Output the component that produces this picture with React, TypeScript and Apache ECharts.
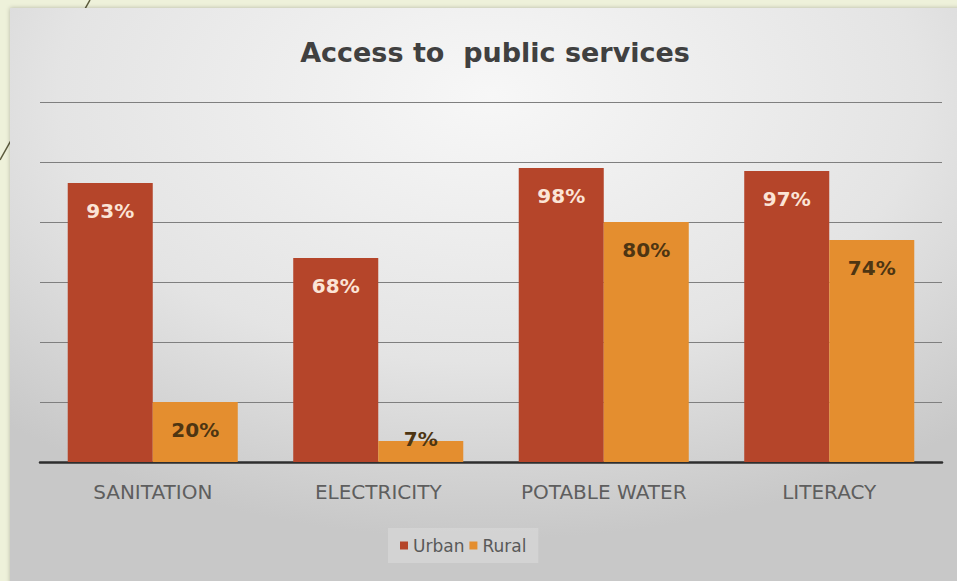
import React, { useEffect, useRef } from "react";
import * as echarts from "echarts";

const categories = ["SANITATION", "ELECTRICITY", "POTABLE WATER", "LITERACY"];
const urban = [93, 68, 98, 97];
const rural = [20, 7, 80, 74];
const yTicks = [0, 20, 40, 60, 80, 100, 120];

export default function App() {
  const ref = useRef<HTMLDivElement>(null);
  useEffect(() => {
    document.body.style.margin = "0";
    const chart = echarts.init(ref.current!, null, { renderer: "svg" });
    const font = "DejaVu Sans";
    chart.setOption({
      animation: false,
      backgroundColor: "#eef1da",
      graphic: [
        {
          type: "line",
          z: -10,
          shape: { x1: 90, y1: 0, x2: 0, y2: 160 },
          style: { stroke: "#5b5a3c", lineWidth: 1.5 },
        },
        {
          type: "rect",
          z: -5,
          shape: { x: 10, y: 8, width: 960, height: 590 },
          style: {
            fill: {
              type: "radial",
              x: 0.5,
              y: 0.15,
              r: 0.75,
              colorStops: [
                { offset: 0, color: "#f7f7f7" },
                { offset: 0.6, color: "#e4e4e4" },
                { offset: 1, color: "#c8c8c8" },
              ],
            },
            shadowColor: "rgba(0,0,0,0.25)",
            shadowBlur: 4,
          },
        },
      ],
      title: {
        text: "Access to  public services",
        left: 490,
        textAlign: "center",
        top: 34,
        textStyle: { fontFamily: font, fontWeight: "bold", fontSize: 27, color: "#404040" },
      },
      legend: {
        data: ["Urban", "Rural"],
        bottom: 18,
        left: 388,
        itemWidth: 8,
        itemHeight: 8,
        itemGap: 5,
        icon: "rect",
        padding: [9, 12],
        backgroundColor: "rgba(255,255,255,0.2)",
        textStyle: { fontFamily: font, fontSize: 17, color: "#595959" },
      },
      grid: { left: 40, right: 15, top: 102, bottom: 119 },
      xAxis: {
        type: "category",
        data: categories,
        axisLine: { lineStyle: { color: "#2e2e2e", width: 2.5 } },
        axisTick: { show: false },
        axisLabel: { fontFamily: font, fontSize: 20, color: "#5e5e5e", margin: 20 },
      },
      yAxis: {
        type: "value",
        min: yTicks[0],
        max: yTicks[yTicks.length - 1],
        interval: 20,
        axisLabel: { show: false },
        axisLine: { show: false },
        axisTick: { show: false },
        splitLine: { lineStyle: { color: "#7f7f7f", width: 1.2 } },
      },
      series: [
        {
          name: "Urban",
          type: "bar",
          data: urban,
          barGap: "0%",
          barCategoryGap: "24.6%",
          itemStyle: { color: "#b5452a" },
          label: {
            show: true,
            position: "insideTop",
            distance: 18,
            formatter: "{c}%",
            fontFamily: font,
            fontWeight: "bold",
            fontSize: 20,
            color: "#fbe4d6",
          },
        },
        {
          name: "Rural",
          type: "bar",
          data: rural.map((v) =>
            v < 10
              ? { value: v, label: { position: "top", distance: -8 } }
              : v
          ),
          itemStyle: { color: "#e48e2f" },
          label: {
            show: true,
            position: "insideTop",
            distance: 18,
            formatter: "{c}%",
            fontFamily: font,
            fontWeight: "bold",
            fontSize: 20,
            color: "#4d3512",
          },
        },
      ],
    });
    return () => chart.dispose();
  }, []);
  return (
    <div
      ref={ref}
      style={{ position: "absolute", left: 0, top: 0, width: 957, height: 581 }}
    />
  );
}
